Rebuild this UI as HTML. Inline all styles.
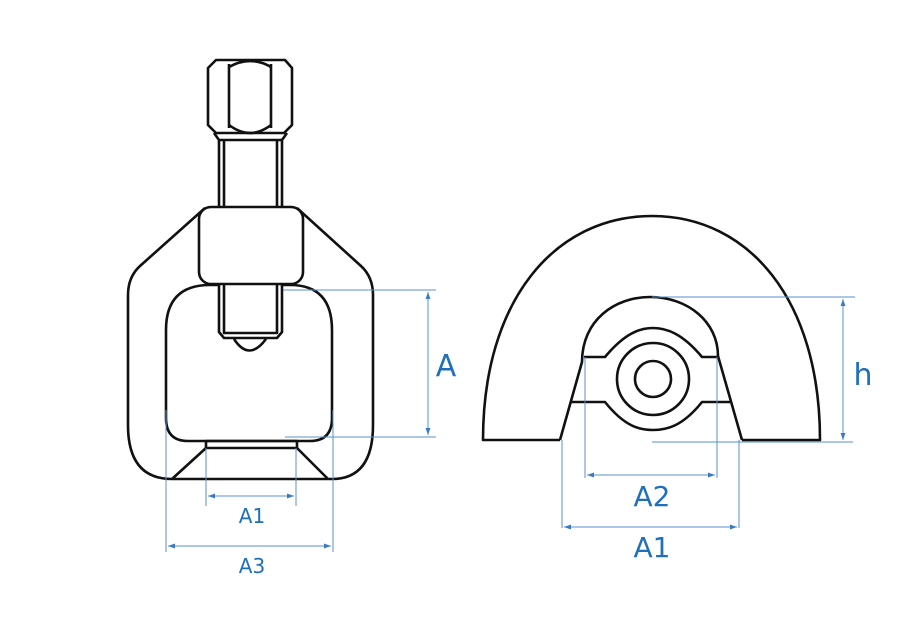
<!DOCTYPE html>
<html><head><meta charset="utf-8"><style>
html,body{margin:0;padding:0;background:#fff;width:900px;height:640px;overflow:hidden}
svg{display:block}
text{font-family:"DejaVu Sans","Liberation Sans",sans-serif;fill:#1f6fbb}
</style></head><body>
<svg width="900" height="640" viewBox="0 0 900 640" xmlns="http://www.w3.org/2000/svg">
<defs>
<marker id="ar" viewBox="0 0 10 10" refX="10" refY="5" markerWidth="7" markerHeight="7" orient="auto-start-reverse" markerUnits="userSpaceOnUse">
<path d="M0,1.5 L10,5 L0,8.5 z" fill="#3a7cc4"/></marker>
</defs>
<g fill="none" stroke="#111" stroke-width="2.6" stroke-linejoin="round">
<!-- hex nut -->
<path d="M216,60 L285,60 L292,68 L292,125 L284,133 L216,133 L208,125 L208,68 Z"/>
<line x1="229" y1="64" x2="229" y2="128"/>
<line x1="271" y1="64" x2="271" y2="128"/>
<path d="M229,67 Q250,55 271,67"/>
<path d="M229,125 Q250,141 271,125"/>
<!-- shaft -->
<path d="M214,133 L219,140 L219,207 M287,133 L282,140 L282,207"/>
<path d="M224,140 L224,207 M277,140 L277,207"/>
<line x1="219" y1="140" x2="282" y2="140"/>
<!-- outer body -->
<path d="M205,208 L140,266 Q128,277 128,295 L128,425 Q128,479 172,479 L332,479 Q373,479 373,425 L373,295 Q373,277 361,266 L297,208"/>
<!-- inner opening -->
<path d="M210,285 L290,285 Q332,285 332,330 L332,418 Q332,441 310,441 L188,441 Q166,441 166,418 L166,330 Q166,285 210,285 Z" fill="#fff"/>
<!-- shaft inside -->
<path d="M219,284 L219,332 L224,338 L277,338 L282,332 L282,284" fill="#fff"/>
<path d="M224,284 L224,333 L277,333 L277,284"/>
<path d="M234,339 Q249,362 266,339"/>
<!-- collar -->
<rect x="199" y="207" width="104" height="77" rx="12" fill="#fff"/>
<!-- bottom -->
<rect x="206" y="441" width="91" height="7"/>
<line x1="206" y1="448" x2="172" y2="479"/>
<line x1="297" y1="448" x2="328" y2="479"/>
<!-- right part -->
<path d="M560,440 L483,440 C483,300 555,216 652,216 C749,216 820,300 820,440 L742,440"/>
<path d="M560,440 L582,362 C582,320 615,297 650,297 C688,297 718,322 718,356 L742,440"/>
<path d="M584,357 L605,357 C625,333 640,328 653,328 C666,328 682,333 702,357 L718,357"/>
<path d="M571,402 L605,402 C625,427 640,430 653,430 C666,430 682,427 702,402 L730,402"/>
<circle cx="653" cy="379" r="36"/>
<circle cx="653" cy="379" r="18"/>
</g>
<g stroke="#5b8fd0" stroke-width="1" fill="none">
<line x1="283" y1="290" x2="436" y2="290"/>
<line x1="285" y1="437" x2="436" y2="437"/>
<line x1="428" y1="292" x2="428" y2="435" marker-start="url(#ar)" marker-end="url(#ar)"/>
<line x1="206" y1="448" x2="206" y2="506"/>
<line x1="296" y1="448" x2="296" y2="506"/>
<line x1="208" y1="496" x2="294" y2="496" marker-start="url(#ar)" marker-end="url(#ar)"/>
<line x1="166" y1="410" x2="166" y2="552"/>
<line x1="333" y1="410" x2="333" y2="552"/>
<line x1="168" y1="546" x2="331" y2="546" marker-start="url(#ar)" marker-end="url(#ar)"/>
<line x1="652" y1="297" x2="855" y2="297"/>
<line x1="652" y1="442" x2="853" y2="442"/>
<line x1="843" y1="299" x2="843" y2="440" marker-start="url(#ar)" marker-end="url(#ar)"/>
<line x1="585" y1="357" x2="585" y2="478"/>
<line x1="717" y1="357" x2="717" y2="478"/>
<line x1="587" y1="475" x2="715" y2="475" marker-start="url(#ar)" marker-end="url(#ar)"/>
<line x1="562" y1="440" x2="562" y2="528"/>
<line x1="739" y1="440" x2="739" y2="528"/>
<line x1="564" y1="527" x2="737" y2="527" marker-start="url(#ar)" marker-end="url(#ar)"/>
</g>
<text x="446" y="376" font-size="30" text-anchor="middle">A</text>
<text x="252" y="523" font-size="20" text-anchor="middle">A1</text>
<text x="252" y="573" font-size="20" text-anchor="middle">A3</text>
<text x="863" y="385" font-size="30" text-anchor="middle">h</text>
<text x="652" y="506" font-size="28" text-anchor="middle">A2</text>
<text x="652" y="557" font-size="28" text-anchor="middle">A1</text>
</svg>
</body></html>
